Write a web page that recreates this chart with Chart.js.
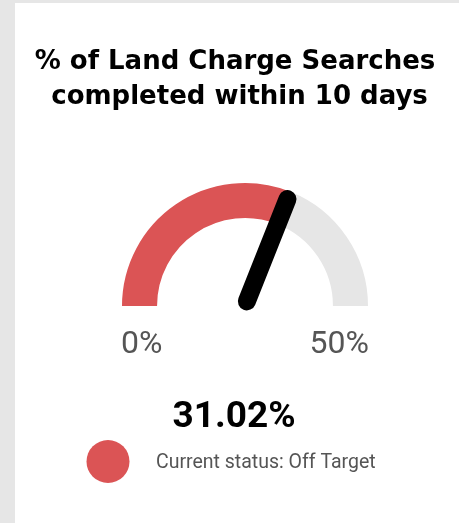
<!DOCTYPE html>
<html>
<head>
<meta charset="utf-8">
<script src="https://cdn.jsdelivr.net/npm/chart.js@4"></script>
<style>
  html, body { margin: 0; padding: 0; background: #e6e6e6; }
  body { width: 459px; height: 523px; overflow: hidden; position: relative; }
  #card { position: absolute; left: 15px; top: 3px; width: 444px; height: 520px; background: #fff; }
  canvas { display: block; }
</style>
</head>
<body>
<div id="card"><canvas id="gaugeChart" width="444" height="520"></canvas></div>
<script>
// gauge data
const titleLines = ["% of Land Charge Searches", " completed within 10 days"];
const gaugeValue = [31.02];
const gaugeRange = [0, 50];
const rangeLabels = ["0%", "50%"];
const statusLabel = ["Current status: Off Target"];
const statusColor = "#db5455";
const restColor = "#e6e6e6";

// Title, needle and labels, drawn from the arc's own geometry
const gaugeExtras = {
  id: "gaugeExtras",
  afterDatasetsDraw(chart) {
    const ctx = chart.ctx;
    const arc = chart.getDatasetMeta(0).data[0];
    const cx = arc.x;
    const cy = arc.y;
    const outer = arc.outerRadius;
    const frac = (gaugeValue[0] - gaugeRange[0]) / (gaugeRange[1] - gaugeRange[0]);
    const theta = -Math.PI + frac * Math.PI;

    ctx.save();
    ctx.textBaseline = "alphabetic";

    // title (drawn here so fillText does not squeeze it into the chart area)
    ctx.fillStyle = "#000";
    ctx.font = "bold 26px 'DejaVu Sans'";
    ctx.textAlign = "center";
    titleLines.forEach((line, i) => ctx.fillText(line, 220, 65.5 + i * 35));

    // needle
    ctx.strokeStyle = "#000";
    ctx.lineWidth = 18;
    ctx.lineCap = "round";
    ctx.beginPath();
    ctx.moveTo(cx + 5 * Math.cos(theta), cy + 5 * Math.sin(theta));
    ctx.lineTo(cx + (outer - 8) * Math.cos(theta), cy + (outer - 8) * Math.sin(theta));
    ctx.stroke();

    // min / max labels
    ctx.fillStyle = "#555";
    ctx.font = "32px Roboto";
    ctx.textAlign = "left";
    ctx.fillText(rangeLabels[0], cx - outer - 1, cy + 47);
    ctx.textAlign = "right";
    ctx.fillText(rangeLabels[1], cx + outer + 1, cy + 47);

    // value
    ctx.fillStyle = "#000";
    ctx.font = "bold 37px Roboto";
    ctx.textAlign = "center";
    ctx.fillText(gaugeValue[0].toFixed(2) + "%", 219, 424);

    // status legend
    ctx.fillStyle = statusColor;
    ctx.beginPath();
    ctx.arc(93, 458.5, 21.5, 0, Math.PI * 2);
    ctx.fill();
    ctx.fillStyle = "#555";
    ctx.font = "19.5px Roboto";
    ctx.textAlign = "left";
    ctx.fillText(statusLabel[0], 141, 464.5);
    ctx.restore();
  },
};

const ctx = document.getElementById("gaugeChart").getContext("2d");
const gaugeChart = new Chart(ctx, {
  type: "doughnut",
  data: {
    labels: ["Value", "Remaining"],
    datasets: [
      {
        data: [gaugeValue[0] - gaugeRange[0], gaugeRange[1] - gaugeValue[0]],
        backgroundColor: [statusColor, restColor],
        borderWidth: 0,
      },
    ],
  },
  options: {
    responsive: false,
    animation: false,
    rotation: -90,
    circumference: 180,
    cutout: "71.5%",
    layout: { padding: { left: 107, right: 91, top: 180, bottom: 217 } },
    plugins: {
      legend: { display: false },
      tooltip: { enabled: false },
      title: { display: false },
    },
  },
  plugins: [gaugeExtras],
});
</script>
</body>
</html>
